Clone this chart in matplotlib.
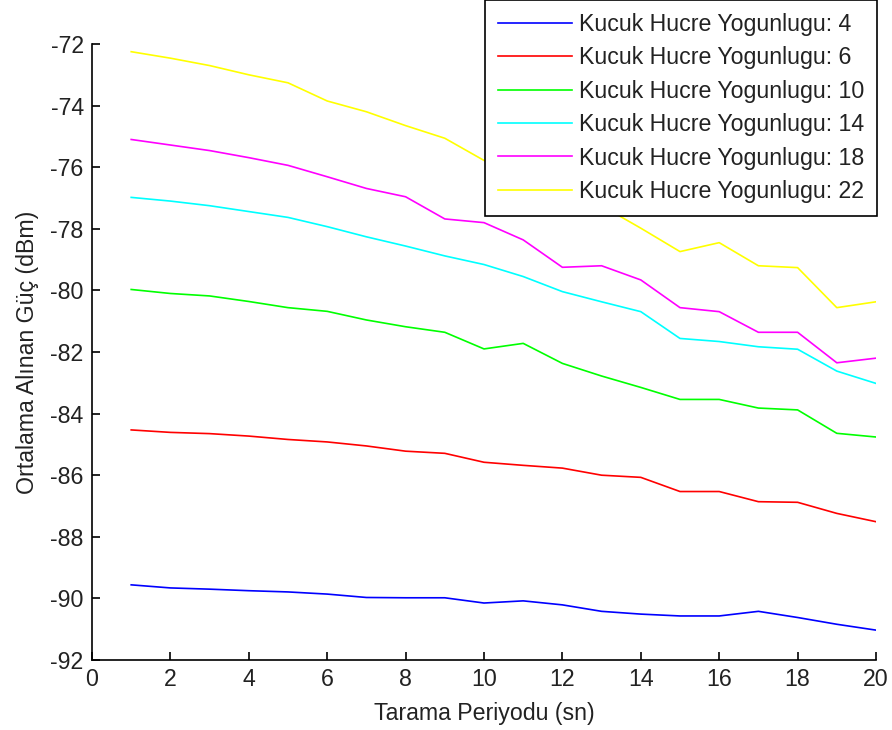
import matplotlib
matplotlib.use("Agg")
import matplotlib.pyplot as plt
import numpy as np

# tarama periyodu (sn)
periods = np.arange(1, 21)

# ortalama alinan guc (dBm), kucuk hucre yogunluguna gore
density_labels = [4, 6, 10, 14, 18, 22]
colors = ["#0000ff", "#ff0000", "#00ff00", "#00ffff", "#ff00ff", "#ffff00"]

power_4 = [-89.56, -89.66, -89.70, -89.75, -89.79, -89.86, -89.97, -89.98, -89.98, -90.15,
           -90.08, -90.21, -90.42, -90.51, -90.57, -90.57, -90.42, -90.62, -90.84, -91.03]
power_6 = [-84.53, -84.61, -84.65, -84.73, -84.84, -84.92, -85.05, -85.22, -85.29, -85.58,
           -85.68, -85.77, -86.00, -86.07, -86.53, -86.53, -86.86, -86.88, -87.24, -87.51]
power_10 = [-79.97, -80.10, -80.18, -80.36, -80.56, -80.68, -80.96, -81.18, -81.36, -81.90,
            -81.72, -82.37, -82.78, -83.15, -83.54, -83.54, -83.82, -83.88, -84.64, -84.76]
power_14 = [-76.98, -77.10, -77.25, -77.44, -77.63, -77.93, -78.26, -78.56, -78.88, -79.16,
            -79.55, -80.04, -80.37, -80.69, -81.56, -81.66, -81.83, -81.91, -82.62, -83.02]
power_18 = [-75.10, -75.28, -75.46, -75.69, -75.94, -76.31, -76.69, -76.96, -77.68, -77.80,
            -78.36, -79.25, -79.20, -79.66, -80.56, -80.69, -81.36, -81.36, -82.35, -82.20]
power_22 = [-72.25, -72.46, -72.70, -73.00, -73.26, -73.85, -74.20, -74.65, -75.06, -75.78,
            -76.30, -76.80, -77.25, -77.98, -78.74, -78.45, -79.20, -79.26, -80.56, -80.37]

series = [power_4, power_6, power_10, power_14, power_18, power_22]

plt.rcParams["font.family"] = ["Liberation Sans", "DejaVu Sans"]
plt.rcParams["font.size"] = 16.7
plt.rcParams["axes.unicode_minus"] = False

fig = plt.figure(figsize=(8.92, 7.30), dpi=100)
ax = fig.add_axes([92 / 892, 70 / 730, 784 / 892, 616 / 730])

for vals, dens, col in zip(series, density_labels, colors):
    ax.plot(periods, vals, color=col, linewidth=1.2,
            label=f"Kucuk Hucre Yogunlugu: {dens}")

ax.set_xlim(0, 20)
ax.set_ylim(-92, -72)
ax.set_xticks(np.arange(0, 21, 2))
ax.set_yticks(np.arange(-92, -71, 2))

ax.spines["top"].set_visible(False)
ax.spines["right"].set_visible(False)
for side in ["left", "bottom"]:
    ax.spines[side].set_linewidth(1.2)
ax.tick_params(direction="in", length=6, width=1.2, colors="black",
               labelcolor="#222222", pad=6)

ax.set_xlabel("Tarama Periyodu (sn)", color="#222222", labelpad=8)
ax.set_ylabel("Ortalama Alınan Güç (dBm)", color="#222222", labelpad=8)

leg = ax.legend(loc="upper right", bbox_to_anchor=(877 / 892, 730 / 730),
                bbox_transform=fig.transFigure, borderaxespad=0,
                fancybox=False, framealpha=1, edgecolor="black",
                handlelength=3.2, handletextpad=0.3, labelspacing=0.45,
                borderpad=0.55)
leg.get_frame().set_linewidth(1.2)
for t in leg.get_texts():
    t.set_color("#222222")

fig.savefig("out.png", dpi=100)
